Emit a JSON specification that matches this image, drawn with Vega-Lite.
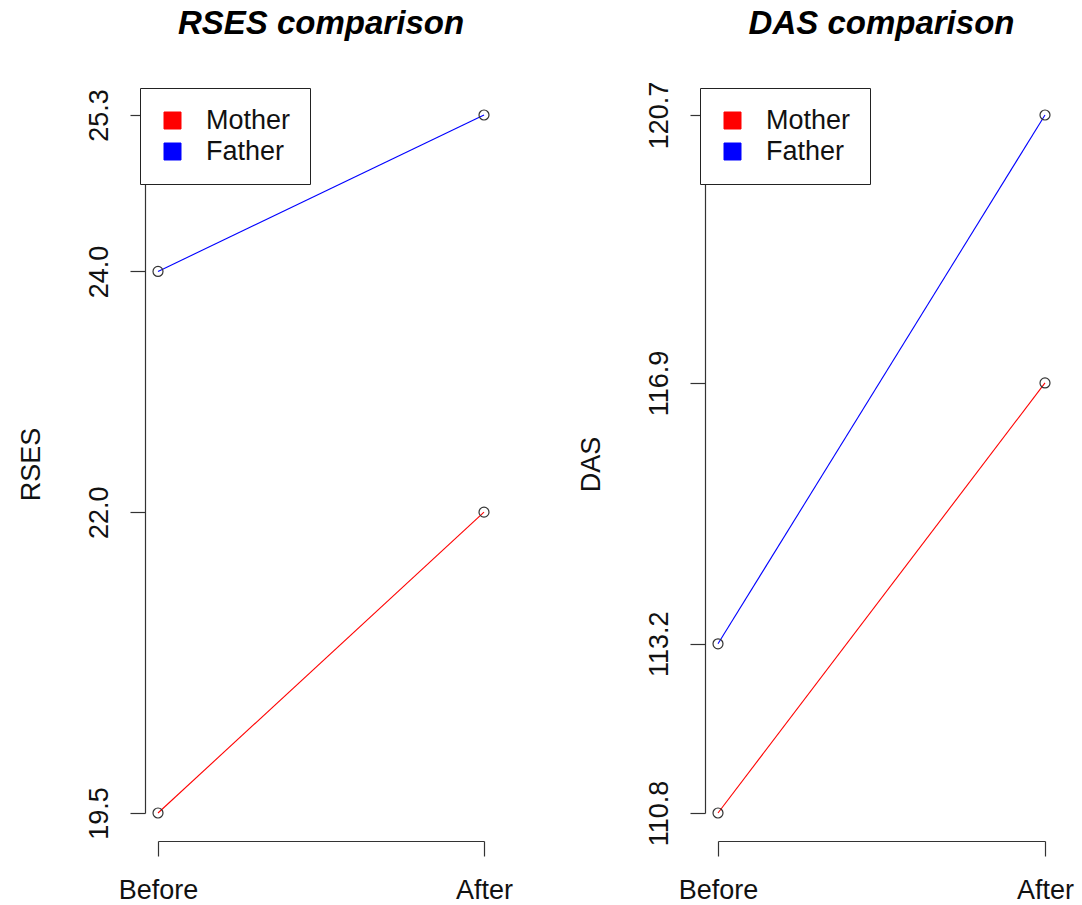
{
  "$schema": "https://vega.github.io/schema/vega-lite/v6.json",
  "background": "white",
  "padding": {"left": 17, "top": 7, "right": 5, "bottom": 0},
  "config": {
    "font": "Liberation Sans",
    "view": {"stroke": null},
    "concat": {"spacing": 64},
    "axis": {
      "grid": false,
      "domainColor": "#333333",
      "domainWidth": 1.2,
      "tickColor": "#333333",
      "tickWidth": 1.2,
      "tickSize": 15,
      "labelColor": "#111111",
      "titleColor": "#111111",
      "labelFont": "Liberation Sans",
      "titleFont": "Liberation Sans",
      "labelFontSize": 27,
      "titleFontSize": 27,
      "titleFontWeight": "normal",
      "labelOverlap": false,
      "labelFlush": false,
      "labelBound": false
    },
    "title": {
      "font": "Liberation Sans",
      "fontSize": 33,
      "fontWeight": "bold",
      "fontStyle": "italic",
      "color": "#000000",
      "anchor": "middle",
      "frame": "group",
      "baseline": "alphabetic"
    },
    "legend": {
      "orient": "none",
      "legendX": -18,
      "legendY": -27,
      "direction": "vertical",
      "title": null,
      "strokeColor": "#222222",
      "fillColor": "white",
      "padding": 19,
      "labelFont": "Liberation Sans",
      "labelFontSize": 27,
      "labelColor": "#111111",
      "labelOffset": 20,
      "symbolOffset": 0,
      "rowPadding": 3,
      "symbolType": "square",
      "symbolSize": 289
    }
  },
  "datasets": {
    "rses": [
      {"group": "Mother", "time": "Before", "value": 19.5},
      {"group": "Mother", "time": "After", "value": 22.0},
      {"group": "Father", "time": "Before", "value": 24.0},
      {"group": "Father", "time": "After", "value": 25.3}
    ],
    "das": [
      {"group": "Mother", "time": "Before", "value": 110.8},
      {"group": "Mother", "time": "After", "value": 116.9},
      {"group": "Father", "time": "Before", "value": 113.2},
      {"group": "Father", "time": "After", "value": 120.7}
    ]
  },
  "resolve": {"scale": {"color": "independent"}, "legend": {"color": "independent"}},
  "hconcat": [
    {
      "width": 326,
      "height": 698,
      "title": {"text": "RSES comparison", "offset": 47},
      "data": {"name": "rses"},
      "layer": [
        {
          "mark": {"type": "line", "strokeWidth": 1.1},
          "encoding": {
            "x": {"field": "time", "type": "nominal", "sort": ["Before", "After"], "scale": {"type": "point", "padding": 0},
                  "axis": {"title": null, "labelAngle": 0, "offset": 28, "labelPadding": 21}},
            "y": {"field": "value", "type": "quantitative", "scale": {"domain": [19.5, 25.3], "zero": false, "nice": false},
                  "axis": {"title": "RSES", "values": [19.5, 22.0, 24.0, 25.3], "format": ".1f", "labelAngle": -90, "labelAlign": "center", "labelBaseline": "bottom", "offset": 13, "labelPadding": 17, "titlePadding": 40}},
            "color": {"field": "group", "type": "nominal", "scale": {"domain": ["Mother", "Father"], "range": ["#ff0000", "#0000ff"]},
                      "legend": {"encode": {"symbols": {"update": {"fill": {"signal": "datum.value === 'Mother' ? '#ff0000' : '#0000ff'"}, "stroke": {"value": "#000000"}, "strokeWidth": {"value": 1}, "shape": {"value": "square"}, "size": {"value": 289}, "opacity": {"value": 1}}}}}}
          }
        },
        {
          "mark": {"type": "point", "shape": "circle", "filled": false, "color": "#333333", "size": 100, "strokeWidth": 1.2, "opacity": 1},
          "encoding": {
            "x": {"field": "time", "type": "nominal", "sort": ["Before", "After"]},
            "y": {"field": "value", "type": "quantitative"}
          }
        }
      ]
    },
    {
      "width": 327,
      "height": 698,
      "title": {"text": "DAS comparison", "offset": 40},
      "data": {"name": "das"},
      "layer": [
        {
          "mark": {"type": "line", "strokeWidth": 1.1},
          "encoding": {
            "x": {"field": "time", "type": "nominal", "sort": ["Before", "After"], "scale": {"type": "point", "padding": 0},
                  "axis": {"title": null, "labelAngle": 0, "offset": 28, "labelPadding": 21}},
            "y": {"field": "value", "type": "quantitative", "scale": {"domain": [110.8, 120.7], "zero": false, "nice": false},
                  "axis": {"title": "DAS", "values": [110.8, 113.2, 116.9, 120.7], "format": ".1f", "labelAngle": -90, "labelAlign": "center", "labelBaseline": "bottom", "offset": 13, "labelPadding": 17, "titlePadding": 40}},
            "color": {"field": "group", "type": "nominal", "scale": {"domain": ["Mother", "Father"], "range": ["#ff0000", "#0000ff"]},
                      "legend": {"encode": {"symbols": {"update": {"fill": {"signal": "datum.value === 'Mother' ? '#ff0000' : '#0000ff'"}, "stroke": {"value": "#000000"}, "strokeWidth": {"value": 1}, "shape": {"value": "square"}, "size": {"value": 289}, "opacity": {"value": 1}}}}}}
          }
        },
        {
          "mark": {"type": "point", "shape": "circle", "filled": false, "color": "#333333", "size": 100, "strokeWidth": 1.2, "opacity": 1},
          "encoding": {
            "x": {"field": "time", "type": "nominal", "sort": ["Before", "After"]},
            "y": {"field": "value", "type": "quantitative"}
          }
        }
      ]
    }
  ]
}
